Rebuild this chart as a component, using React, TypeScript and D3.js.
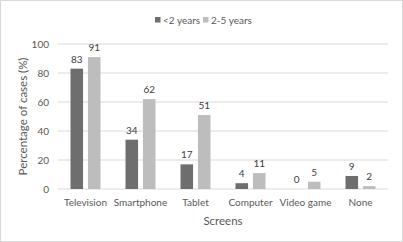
import React from "react";
import * as d3 from "d3";

const categories = ["Television", "Smartphone", "Tablet", "Computer", "Video game", "None"];
const seriesNames = ["<2 years", "2-5 years"];
const under2 = [83, 34, 17, 4, 0, 9];
const age2to5 = [91, 62, 51, 11, 5, 2];
const yTicks = [0, 20, 40, 60, 80, 100];

const W = 403;
const H = 242;
const colors = ["#6e6e6e", "#bdbdbd"];
const font = "Lato, 'Open Sans', sans-serif";

export default function App() {
  const x = d3.scaleBand<string>().domain(categories).range([58, 388]);
  const y = d3.scaleLinear().domain([0, 100]).range([189, 44]);
  const inner = d3.scaleBand<string>().domain(seriesNames).range([-15, 15]).paddingInner(0.28);
  const series = [under2, age2to5];
  return (
    <div style={{ position: "absolute", left: 0, top: 0 }}>
      <svg width={W} height={H} style={{ display: "block", fontFamily: font }}>
        <rect x={0.5} y={0.5} width={W - 1} height={H - 1} fill="#fff" stroke="#d9d9d9" />
        {yTicks.map((t) => (
          <g key={t}>
            <line x1={58} x2={388} y1={y(t)} y2={y(t)} stroke="#d9d9d9" strokeWidth={1} />
            <text x={49} y={y(t)} dy="0.35em" textAnchor="end" fontSize={10} fill="#595959">
              {t}
            </text>
          </g>
        ))}
        {categories.map((c, i) => {
          const cx = (x(c) as number) + x.bandwidth() / 2;
          return (
            <g key={c}>
              {series.map((s, j) => {
                const bx = cx + (inner(seriesNames[j]) as number);
                return (
                  <g key={j}>
                    <rect x={bx} y={y(s[i])} width={inner.bandwidth()} height={y(0) - y(s[i])} fill={colors[j]} />
                    <text
                      x={bx + inner.bandwidth() / 2}
                      y={y(s[i]) - 6}
                      textAnchor="middle"
                      fontSize={10}
                      fill="#404040"
                    >
                      {s[i]}
                    </text>
                  </g>
                );
              })}
              <text x={cx} y={206} textAnchor="middle" fontSize={10} fill="#595959">
                {c}
              </text>
            </g>
          );
        })}
        <text x={223} y={225} textAnchor="middle" fontSize={11.5} fill="#595959">
          Screens
        </text>
        <text
          transform={`translate(27,${y(50)}) rotate(-90)`}
          textAnchor="middle"
          fontSize={11.5}
          fill="#595959"
        >
          Percentage of cases (%)
        </text>
        {seriesNames.map((n, j) => {
          const lx = j === 0 ? 155 : 203;
          return (
            <g key={n}>
              <rect x={lx} y={17} width={5.5} height={5.5} fill={colors[j]} />
              <text x={lx + 8} y={20} dy="0.35em" fontSize={10} fill="#595959">
                {n}
              </text>
            </g>
          );
        })}
      </svg>
    </div>
  );
}
